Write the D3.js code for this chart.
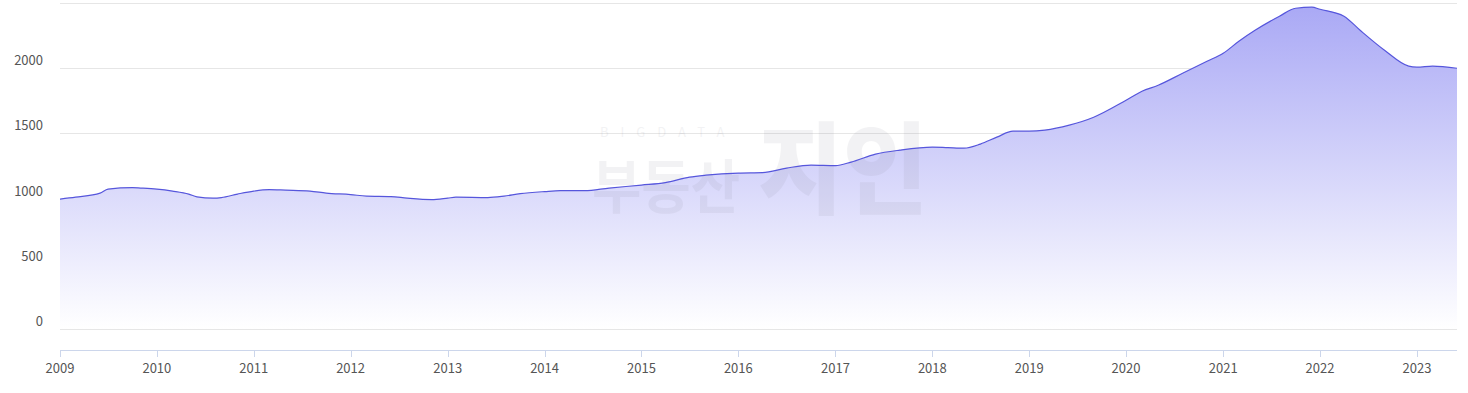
<!DOCTYPE html>
<html>
<head>
<meta charset="utf-8">
<script src="https://cdn.jsdelivr.net/npm/d3@7"></script>
<style>
  html, body { margin: 0; padding: 0; background: #fff; }
  #chart { width: 1468px; height: 393px; }
  text { font-family: "Noto Sans CJK KR", "Noto Sans", sans-serif; }
</style>
</head>
<body>
<div id="chart"></div>
<script>
// DATA ---------------------------------------------------------------
const months = [
  "2009-01","2009-03","2009-06","2009-07","2009-10","2009-11",
  "2010-01","2010-03","2010-05","2010-06","2010-08","2010-09","2010-11",
  "2011-01","2011-03","2011-05","2011-08","2011-10",
  "2012-01","2012-03","2012-06","2012-08","2012-11",
  "2013-01","2013-02","2013-06","2013-08","2013-10",
  "2014-01","2014-03","2014-06","2014-09",
  "2015-01","2015-04","2015-07","2015-09",
  "2016-01","2016-04","2016-07","2016-10",
  "2017-01","2017-03","2017-06","2017-09",
  "2018-01","2018-03","2018-05","2018-07","2018-09","2018-11",
  "2019-01","2019-03","2019-06","2019-09",
  "2020-01","2020-03","2020-05","2020-08","2020-11",
  "2021-01","2021-03","2021-05","2021-08","2021-10","2021-12",
  "2022-01","2022-04","2022-06","2022-09","2022-12",
  "2023-01","2023-03","2023-06"
];
const prices = [
  995,1010,1041,1072,1083,1080,
  1072,1057,1034,1012,1003,1007,1034,
  1057,1068,1064,1057,1041,
  1030,1018,1015,1003,992,
  1003,1010,1007,1018,1037,
  1053,1060,1060,1080,
  1103,1122,1164,1179,
  1195,1198,1233,1256,
  1252,1279,1340,1371,
  1394,1390,1386,1417,1470,1516,
  1516,1524,1562,1623,
  1753,1822,1868,1960,2052,
  2113,2205,2289,2397,2458,2466,
  2450,2397,2289,2136,2014,
  2006,2014,1998
];
const yTicks = [0, 500, 1000, 1500, 2000, 2500];
const yLabels = [0, 500, 1000, 1500, 2000];
const xTickYears = d3.range(2009, 2024);
// --------------------------------------------------------------------

const width = 1468, height = 393;
const margin = { left: 60, right: 11, top: 2.75, zeroY: 329, axisY: 350 };
const parse = d3.timeParse("%Y-%m");
const data = months.map((m, i) => ({ date: parse(m), value: prices[i] }));

const svg = d3.select("#chart").append("svg")
  .attr("width", width).attr("height", height);

const x = d3.scaleTime()
  .domain(d3.extent(data, d => d.date))
  .range([margin.left, width - margin.right]);

const y = d3.scaleLinear()
  .domain([0, 2500])
  .range([margin.zeroY, margin.top]);

// gradient
const defs = svg.append("defs");
const grad = defs.append("linearGradient")
  .attr("id", "areaGrad")
  .attr("gradientUnits", "userSpaceOnUse")
  .attr("x1", 0).attr("x2", 0)
  .attr("y1", y(2500)).attr("y2", y(0));
grad.append("stop").attr("offset", "0%").attr("stop-color", "#a9a8f5");
grad.append("stop").attr("offset", "100%").attr("stop-color", "#ffffff");

// gridlines
svg.append("g").selectAll("line").data(yTicks).enter()
  .append("line")
  .attr("x1", margin.left).attr("x2", width - margin.right)
  .attr("y1", d => Math.round(y(d)) + 0.5).attr("y2", d => Math.round(y(d)) + 0.5)
  .attr("stroke", "#e6e6e6").attr("stroke-width", 1);

// y labels
svg.append("g").selectAll("text").data(yLabels).enter()
  .append("text")
  .attr("x", 43)
  .attr("y", d => y(d) - 3)
  .attr("text-anchor", "end")
  .attr("fill", "#555")
  .attr("font-size", 13)
  .text(d => d);

// area + line
const area = d3.area()
  .x(d => x(d.date))
  .y0(y(0))
  .y1(d => y(d.value))
  .curve(d3.curveMonotoneX);

const line = d3.line()
  .x(d => x(d.date))
  .y(d => y(d.value))
  .curve(d3.curveMonotoneX);

svg.append("path").datum(data)
  .attr("d", area)
  .attr("fill", "url(#areaGrad)");

// watermark
const wm = svg.append("g").attr("fill", "#7a7a8a").attr("opacity", 0.09);
wm.append("text")
  .attr("x", 600).attr("y", 137)
  .attr("font-size", 13)
  .attr("letter-spacing", 12)
  .text("BIGDATA");
wm.append("text")
  .attr("x", 592).attr("y", 208)
  .attr("font-size", 58).attr("font-weight", 700)
  .attr("textLength", 148).attr("lengthAdjust", "spacingAndGlyphs")
  .text("부동산");
wm.append("text")
  .attr("x", 758).attr("y", 206)
  .attr("font-size", 100).attr("font-weight", 900)
  .attr("textLength", 170).attr("lengthAdjust", "spacingAndGlyphs")
  .text("지인");

svg.append("path").datum(data)
  .attr("d", line)
  .attr("fill", "none")
  .attr("stroke", "#5656dc")
  .attr("stroke-width", 1.2);

// x axis
const xAxisG = svg.append("g");
xAxisG.append("line")
  .attr("x1", margin.left).attr("x2", width - margin.right)
  .attr("y1", margin.axisY + 0.5).attr("y2", margin.axisY + 0.5)
  .attr("stroke", "#ccd6eb");

const yearDates = xTickYears.map(yr => new Date(yr, 0, 1));
xAxisG.selectAll(".tick").data(yearDates).enter()
  .append("line")
  .attr("x1", d => Math.round(x(d)) + 0.5).attr("x2", d => Math.round(x(d)) + 0.5)
  .attr("y1", margin.axisY).attr("y2", margin.axisY + 7)
  .attr("stroke", "#ccd6eb");

xAxisG.selectAll(".lbl").data(yearDates).enter()
  .append("text")
  .attr("x", d => x(d))
  .attr("y", 373)
  .attr("text-anchor", "middle")
  .attr("fill", "#555")
  .attr("font-size", 13)
  .text(d => d.getFullYear());
</script>
</body>
</html>
